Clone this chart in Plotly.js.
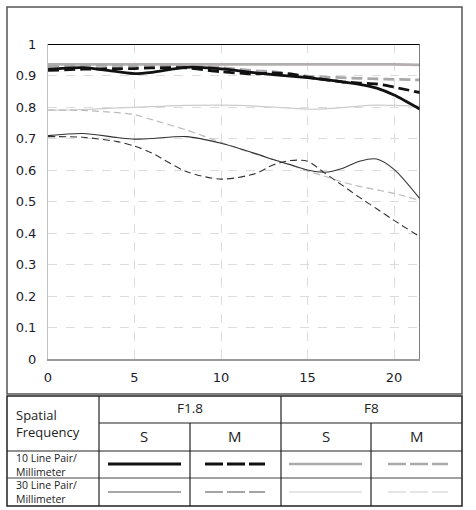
<!DOCTYPE html>
<html>
<head>
<meta charset="utf-8">
<script src="https://cdn.plot.ly/plotly-3.0.1.min.js"></script>
<style>html,body{margin:0;padding:0;background:#fff}#chart{width:476px;height:510px}</style>
</head>
<body>
<div id="chart"></div>
<script>
// Image height from center (mm)
const field = [0, 2, 4, 5, 6, 8, 10, 12, 13, 14, 15, 16, 17, 18, 19, 20, 21.5];
// 10 line pairs / mm
const f18S10 = [0.920, 0.925, 0.912, 0.906, 0.910, 0.926, 0.921, 0.908, 0.903, 0.898, 0.893, 0.887, 0.880, 0.872, 0.860, 0.838, 0.793];
const f18M10 = [0.916, 0.920, 0.922, 0.922, 0.924, 0.924, 0.912, 0.905, 0.908, 0.905, 0.895, 0.887, 0.880, 0.876, 0.873, 0.863, 0.846];
const f8S10  = [0.935, 0.935, 0.935, 0.935, 0.935, 0.935, 0.935, 0.935, 0.935, 0.935, 0.935, 0.935, 0.935, 0.935, 0.935, 0.935, 0.934];
const f8M10  = [0.930, 0.932, 0.932, 0.931, 0.930, 0.930, 0.925, 0.915, 0.912, 0.905, 0.898, 0.895, 0.893, 0.891, 0.889, 0.888, 0.886];
// 30 line pairs / mm
const f18S30 = [0.709, 0.716, 0.703, 0.698, 0.700, 0.706, 0.685, 0.652, 0.633, 0.617, 0.600, 0.593, 0.605, 0.628, 0.635, 0.602, 0.508];
const f18M30 = [0.706, 0.704, 0.690, 0.676, 0.654, 0.595, 0.571, 0.589, 0.616, 0.630, 0.628, 0.590, 0.552, 0.513, 0.477, 0.440, 0.388];
const f8S30  = [0.790, 0.792, 0.797, 0.799, 0.801, 0.805, 0.806, 0.803, 0.800, 0.796, 0.793, 0.794, 0.798, 0.803, 0.806, 0.805, 0.803];
const f8M30  = [0.790, 0.789, 0.782, 0.776, 0.760, 0.727, 0.688, 0.650, 0.634, 0.616, 0.597, 0.580, 0.562, 0.548, 0.537, 0.526, 0.503];

const xTicks = [0, 5, 10, 15, 20];
const yTicks = [0, 0.1, 0.2, 0.3, 0.4, 0.5, 0.6, 0.7, 0.8, 0.9, 1];
const yTickText = ['0', '0.1', '0.2', '0.3', '0.4', '0.5', '0.6', '0.7', '0.8', '0.9', '1'];

const apertures = ['F1.8', 'F8'];
const lineTypes = ['S', 'M'];
const freqLabels = ['10 Line Pair/<br>Millimeter', '30 Line Pair/<br>Millimeter'];
const headerLabel = 'Spatial<br>Frequency';

const W = 476, H = 510;
const px = x => x / W;
const py = y => 1 - y / H;

function tr(y, color, width, dash) {
  return {x: field, y: y, type: 'scatter', mode: 'lines', hoverinfo: 'skip', showlegend: false,
    line: {color: color, width: width, dash: dash, shape: 'spline', smoothing: 0.8}};
}

const traces = [
  tr(f8S30, '#cccccc', 1.2, 'solid'),
  tr(f8M30, '#bbbbbb', 1.2, '7px,4px'),
  tr(f18S30, '#333333', 1.1, 'solid'),
  tr(f18M30, '#333333', 1.1, '7px,4px'),
  tr(f8S10, '#b3aeae', 2.8, 'solid'),
  tr(f8M10, '#a8a8a8', 2.8, '11px,5px'),
  tr(f18S10, '#111111', 2.8, 'solid'),
  tr(f18M10, '#111111', 2.8, '11px,5px')
];

const shapes = [];
function pline(x0, y0, x1, y1, color, width, dash) {
  shapes.push({type: 'line', xref: 'paper', yref: 'paper', x0: px(x0), y0: py(y0), x1: px(x1), y1: py(y1),
    line: {color: color, width: width, dash: dash || 'solid'}, layer: 'above'});
}
// plot frame top & right
shapes.push({type: 'line', xref: 'x', yref: 'y', x0: 0, x1: 21.5, y0: 1, y1: 1, line: {color: '#000', width: 2}, layer: 'above'});
shapes.push({type: 'line', xref: 'x', yref: 'y', x0: 21.5, x1: 21.5, y0: 0, y1: 1, line: {color: '#555', width: 1.5}, layer: 'above'});
// outer chart box
shapes.push({type: 'rect', xref: 'paper', yref: 'paper', x0: px(7), x1: px(462), y0: py(394), y1: py(7), line: {color: '#555', width: 1.5}});
// table
shapes.push({type: 'rect', xref: 'paper', yref: 'paper', x0: px(7), x1: px(462), y0: py(506), y1: py(396), line: {color: '#222', width: 1.5}});
pline(99, 423, 462, 423, '#222', 1.2);
pline(7, 451, 462, 451, '#222', 1.2);
pline(7, 478, 462, 478, '#444', 1.2);
pline(99, 396, 99, 506, '#222', 1.2);
pline(281, 396, 281, 506, '#222', 1.2);
pline(190, 423, 190, 506, '#222', 1.2);
pline(371, 423, 371, 506, '#222', 1.2);
// legend samples
const rowY = [464, 492];
const colX = [[108, 181], [205, 265], [289, 362], [388, 448]];
const sampleStyle = [
  [['#111', 3.2, 'solid'], ['#111', 3.2, '18px,4px'], ['#aaa', 2.5, 'solid'], ['#aaa', 2.5, '18px,4px']],
  [['#888', 1.3, 'solid'], ['#888', 1.3, '18px,4px'], ['#ddd', 1.3, 'solid'], ['#ddd', 1.3, '18px,4px']]
];
for (let r = 0; r < 2; r++) for (let c = 0; c < 4; c++) {
  const s = sampleStyle[r][c];
  pline(colX[c][0], rowY[r], colX[c][1], rowY[r], s[0], s[1], s[2]);
}

const fam = 'Open Sans, DejaVu Sans, sans-serif';
const annotations = [];
function ann(text, x, y, xanchor, size) {
  annotations.push({text: text, xref: 'paper', yref: 'paper', x: px(x), y: py(y), xanchor: xanchor, yanchor: 'middle',
    showarrow: false, align: 'left', borderpad: 0, font: {family: fam, size: size, color: '#222'}});
}
ann(headerLabel, 15, 423, 'left', 13);
ann(apertures[0], 190, 408, 'center', 13.5);
ann(apertures[1], 371, 408, 'center', 13.5);
ann(lineTypes[0], 144, 436, 'center', 15);
ann(lineTypes[1], 235, 436, 'center', 15);
ann(lineTypes[0], 326, 436, 'center', 15);
ann(lineTypes[1], 417, 436, 'center', 15);
ann(freqLabels[0], 15, 464.5, 'left', 10.5);
ann(freqLabels[1], 15, 492.3, 'left', 10.5);

const layout = {
  width: W, height: H,
  margin: {l: 0, r: 0, t: 0, b: 0},
  paper_bgcolor: '#fff', plot_bgcolor: '#fff',
  showlegend: false,
  font: {family: 'DejaVu Sans, sans-serif', color: '#1c1c2c', size: 13},
  xaxis: {
    domain: [px(48), px(420)], range: [0, 21.5], tickvals: xTicks, ticktext: xTicks.map(String),
    showgrid: true, gridcolor: '#dcdcdc', griddash: 'dash', gridwidth: 1,
    showline: true, linecolor: '#9a9a9a', linewidth: 2, zeroline: false,
    ticks: 'outside', ticklen: 5, tickcolor: 'rgba(0,0,0,0)',
    tickfont: {family: 'DejaVu Sans, sans-serif', size: 13, color: '#1c1c2c'}, fixedrange: true
  },
  yaxis: {
    domain: [py(359), py(44)], range: [0, 1], tickvals: yTicks, ticktext: yTickText,
    showgrid: true, gridcolor: '#dcdcdc', griddash: 'dash', gridwidth: 1,
    showline: true, linecolor: '#c0c0c0', linewidth: 1, zeroline: false,
    ticks: 'outside', ticklen: 8, tickcolor: 'rgba(0,0,0,0)',
    tickfont: {family: 'DejaVu Sans, sans-serif', size: 13, color: '#1c1c2c'}, fixedrange: true
  },
  shapes: shapes,
  annotations: annotations
};

Plotly.newPlot('chart', traces, layout, {displayModeBar: false, staticPlot: true});
</script>
</body>
</html>
